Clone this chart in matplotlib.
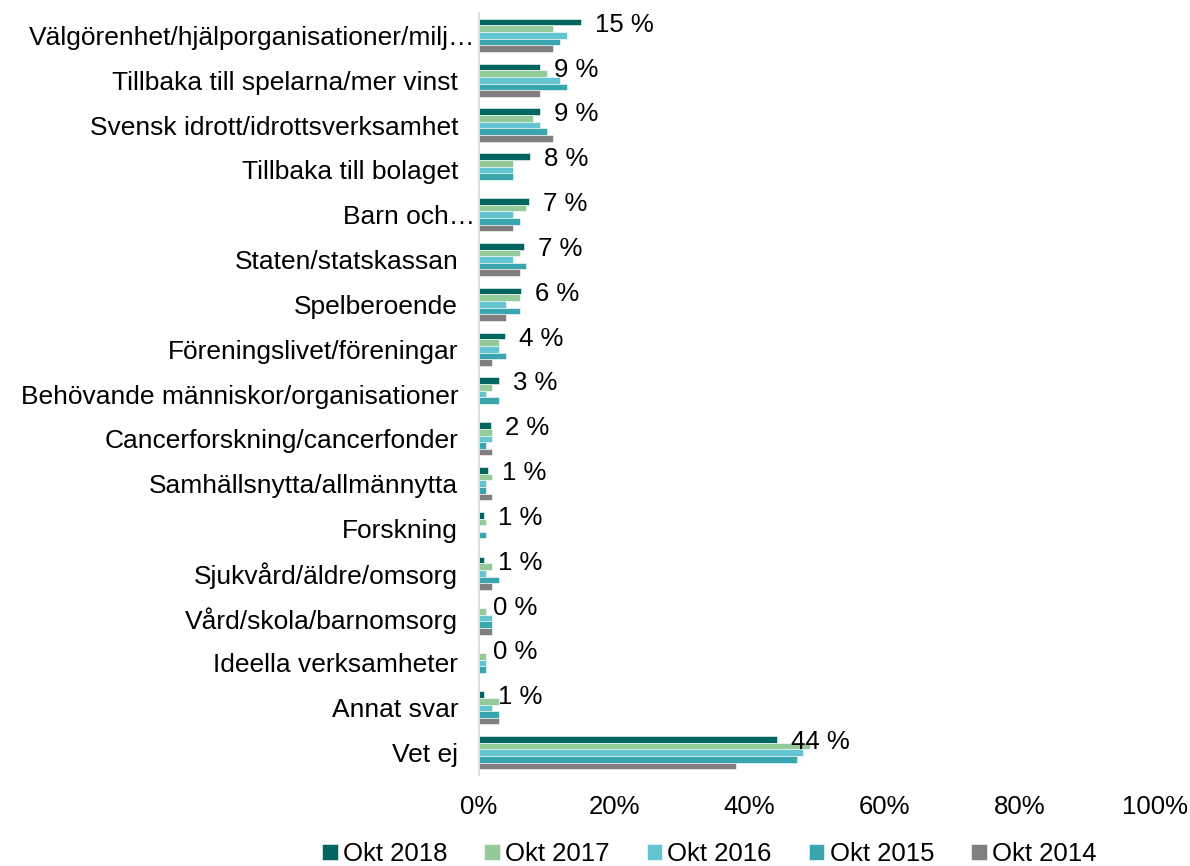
import matplotlib
matplotlib.use("Agg")
import matplotlib.pyplot as plt
import matplotlib.transforms as mtransforms
import numpy as np

plt.rcParams['font.family'] = ['Liberation Sans', 'DejaVu Sans']

categories = [
    "Välgörenhet/hjälporganisationer/milj…",
    "Tillbaka till spelarna/mer vinst",
    "Svensk idrott/idrottsverksamhet",
    "Tillbaka till bolaget",
    "Barn och…",
    "Staten/statskassan",
    "Spelberoende",
    "Föreningslivet/föreningar",
    "Behövande människor/organisationer",
    "Cancerforskning/cancerfonder",
    "Samhällsnytta/allmännytta",
    "Forskning",
    "Sjukvård/äldre/omsorg",
    "Vård/skola/barnomsorg",
    "Ideella verksamheter",
    "Annat svar",
    "Vet ej",
]

okt_2018 = [15.1, 9.1, 9.1, 7.6, 7.4, 6.7, 6.2, 3.9, 3.0, 1.8, 1.4, 0.8, 0.7, 0.0, 0.0, 0.7, 44.1]
okt_2017 = [11, 10, 8, 5, 7, 6, 6, 3, 2, 2, 2, 1, 2, 1, 1, 3, 49]
okt_2016 = [13, 12, 9, 5, 5, 5, 4, 3, 1, 2, 1, 0, 1, 2, 1, 2, 48]
okt_2015 = [12, 13, 10, 5, 6, 7, 6, 4, 3, 1, 1, 1, 3, 2, 1, 3, 47]
okt_2014 = [11, 9, 11, 0, 5, 6, 4, 2, 0, 2, 2, 0, 2, 2, 0, 3, 38]

series_names = ["Okt 2018", "Okt 2017", "Okt 2016", "Okt 2015", "Okt 2014"]
series = [okt_2018, okt_2017, okt_2016, okt_2015, okt_2014]
colors = ["#00665F", "#94CA9A", "#64C4D0", "#38A5AF", "#7F7F7F"]

x_ticks = [0, 20, 40, 60, 80, 100]
x_tick_labels = ["0%", "20%", "40%", "60%", "80%", "100%"]

fig = plt.figure(figsize=(11.9, 8.66), dpi=100)
ax = fig.add_axes([0.4025, 0.105, 0.5681, 0.880])

n = len(categories)
y = np.arange(n)
bar_h = 0.148
for i, (name, vals, c) in enumerate(zip(series_names, series, colors)):
    offs = (i - 2) * bar_h
    ax.barh(y + offs, vals, height=bar_h, color=c, label=name,
            edgecolor="white", linewidth=0.4)

# value labels for Okt 2018
for yi, v in zip(y, okt_2018):
    ax.annotate(f"{round(v):.0f} %", xy=(v, yi - 2 * bar_h + 0.06),
                xytext=(10, 0), textcoords="offset points",
                va="center", ha="left", fontsize=18.5, color="black")

ax.set_ylim(n - 0.5, -0.5)
ax.set_xlim(0, 100)
ax.set_yticks(y)
ax.set_yticklabels(categories, fontsize=19)
ax.set_xticks(x_ticks)
ax.set_xticklabels(x_tick_labels, fontsize=18.5)
ax.tick_params(axis="both", length=0)
ax.tick_params(axis="y", pad=15)
ax.tick_params(axis="x", pad=14)
for lbl in ax.get_yticklabels():
    if lbl.get_text().endswith("…"):
        lbl.set_transform(lbl.get_transform() +
                          mtransforms.ScaledTranslation(0.17, 0, fig.dpi_scale_trans))
for s in ["top", "right", "bottom"]:
    ax.spines[s].set_visible(False)
ax.spines["left"].set_color("#D9D9D9")
ax.spines["left"].set_linewidth(1.2)

fig.legend(loc="center", bbox_to_anchor=(0.596, 0.014), ncol=5, frameon=False,
           fontsize=18.5, handlelength=0.6, handleheight=0.6, handletextpad=0.2,
           columnspacing=1.45)

fig.savefig("out.png", dpi=100)
